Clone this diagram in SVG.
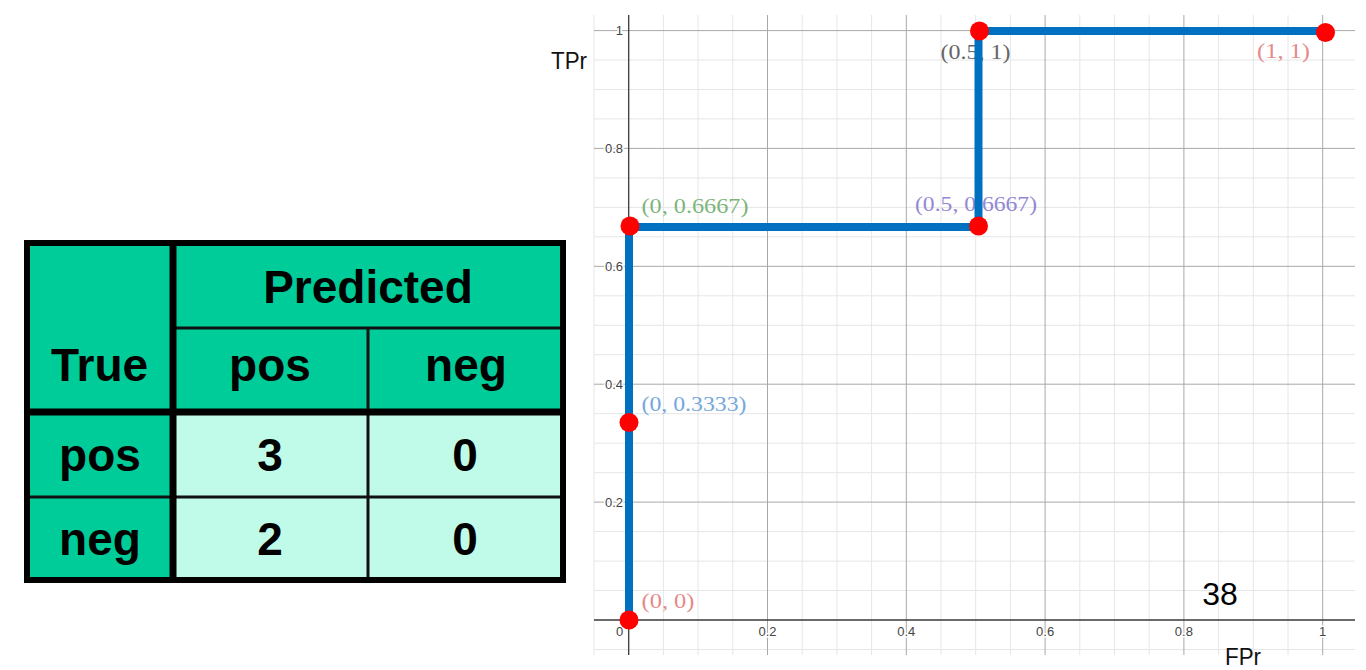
<svg xmlns="http://www.w3.org/2000/svg" width="1366" height="670" viewBox="0 0 1366 670">
<style>
.minor{stroke:#e6e6e6;stroke-width:1;fill:none}
.major{stroke:#a8a8a8;stroke-width:1;fill:none}
.axis{stroke:#3a3a3a;stroke-width:1.3;fill:none}
.tick{font-family:"Liberation Sans",Arial,sans-serif;font-size:13px;fill:#444;stroke:#fff;stroke-width:3;paint-order:stroke;stroke-linejoin:round}
.pl{font-family:"Liberation Serif","DejaVu Serif",serif;font-size:20px}
.roc{stroke:#0070c0;stroke-width:8;fill:none;stroke-linejoin:miter}
.pt{fill:#ff0000}
.axl{font-family:"Liberation Sans",Arial,sans-serif;font-size:24px;fill:#111}
.hd{fill:#00cc99}
.dc{fill:#c0fbe9}
.tt{font-family:"Liberation Sans",Arial,sans-serif;font-weight:bold;font-size:46px;fill:#000;text-anchor:middle}
.thick{stroke:#000;stroke-width:7;fill:none}
.thin{stroke:#111;stroke-width:3;fill:none}
</style>
<rect width="1366" height="670" fill="#fff"/>

<g id="table">
  <g id="cell-true"><rect class="hd" x="27" y="243" width="146" height="169"/><text class="tt" x="99.5" y="381">True</text></g>
  <g id="cell-predicted"><rect class="hd" x="173" y="243" width="390" height="85"/><text class="tt" x="368" y="303">Predicted</text></g>
  <g id="cell-pred-pos"><rect class="hd" x="173" y="328" width="195" height="84"/><text class="tt" x="270" y="381">pos</text></g>
  <g id="cell-pred-neg"><rect class="hd" x="368" y="328" width="195" height="84"/><text class="tt" x="466" y="381">neg</text></g>
  <g id="cell-row-pos"><rect class="hd" x="27" y="412" width="146" height="85"/><text class="tt" x="100" y="471">pos</text></g>
  <g id="cell-row-neg"><rect class="hd" x="27" y="497" width="146" height="83"/><text class="tt" x="100" y="555">neg</text></g>
  <g id="cell-tp"><rect class="dc" x="173" y="412" width="195" height="85"/><text class="tt" x="270" y="471">3</text></g>
  <g id="cell-fn"><rect class="dc" x="368" y="412" width="195" height="85"/><text class="tt" x="465" y="471">0</text></g>
  <g id="cell-fp"><rect class="dc" x="173" y="497" width="195" height="83"/><text class="tt" x="270" y="555">2</text></g>
  <g id="cell-tn"><rect class="dc" x="368" y="497" width="195" height="83"/><text class="tt" x="465" y="555">0</text></g>
  <g id="table-lines">
    <path class="thin" d="M173 328H563M368 328V580M27 497H563"/>
    <path class="thick" d="M173 243V580M27 412H563"/>
    <rect x="27" y="243" width="536" height="337" fill="none" stroke="#000" stroke-width="6"/>
  </g>
</g>

<g id="chart">
  <g id="grid">
    <path class="minor" d="M594 15V655M663.4 15V655M698.1 15V655M732.8 15V655M802.2 15V655M836.9 15V655M871.6 15V655M941 15V655M975.7 15V655M1010.4 15V655M1079.8 15V655M1114.5 15V655M1149.2 15V655M1218.6 15V655M1253.3 15V655M1288 15V655"/>
    <path class="minor" d="M594 649.5H1355M594 590.5H1355M594 561.1H1355M594 531.6H1355M594 472.7H1355M594 443.2H1355M594 413.7H1355M594 354.7H1355M594 325.3H1355M594 295.8H1355M594 236.8H1355M594 207.4H1355M594 177.9H1355M594 118.9H1355M594 89.5H1355M594 60H1355"/>
    <path class="major" d="M767.5 15V655M906.3 15V655M1045.1 15V655M1183.9 15V655M1322.7 15V655M594 502.1H1355M594 384.2H1355M594 266.3H1355M594 148.4H1355M594 30.6H1355"/>
    <path class="axis" d="M628.7 15V655M594 620H1355"/>
  </g>
  <g id="tick-labels">
    <text class="tick" x="623" y="35" text-anchor="end">1</text>
    <text class="tick" x="623" y="153" text-anchor="end">0.8</text>
    <text class="tick" x="623" y="271" text-anchor="end">0.6</text>
    <text class="tick" x="623" y="389" text-anchor="end">0.4</text>
    <text class="tick" x="623" y="506.5" text-anchor="end">0.2</text>
    <text class="tick" x="619.5" y="635.5" text-anchor="middle">0</text>
    <text class="tick" x="767.5" y="635.5" text-anchor="middle">0.2</text>
    <text class="tick" x="906.3" y="635.5" text-anchor="middle">0.4</text>
    <text class="tick" x="1045.1" y="635.5" text-anchor="middle">0.6</text>
    <text class="tick" x="1183.9" y="635.5" text-anchor="middle">0.8</text>
    <text class="tick" x="1322.7" y="635.5" text-anchor="middle">1</text>
  </g>
  <g id="axis-labels">
    <text class="axl" x="551" y="69" textLength="36" lengthAdjust="spacingAndGlyphs">TPr</text>
    <text class="axl" x="1225" y="665" textLength="36" lengthAdjust="spacingAndGlyphs">FPr</text>
    <text x="1220" y="605" text-anchor="middle" font-family="Liberation Sans, Arial, sans-serif" font-size="32" fill="#000">38</text>
  </g>
  <g id="point-labels">
    <text class="pl" x="641.5" y="608" fill="#e58a8a" textLength="53" lengthAdjust="spacingAndGlyphs">(0, 0)</text>
    <text class="pl" x="641.5" y="410.5" fill="#74a8dd" textLength="105" lengthAdjust="spacingAndGlyphs">(0, 0.3333)</text>
    <text class="pl" x="641.5" y="213" fill="#7db57d" textLength="107" lengthAdjust="spacingAndGlyphs">(0, 0.6667)</text>
    <text class="pl" x="915" y="210.5" fill="#9288d4" textLength="122" lengthAdjust="spacingAndGlyphs">(0.5, 0.6667)</text>
    <text class="pl" x="940.5" y="59" fill="#666" textLength="70" lengthAdjust="spacingAndGlyphs">(0.5, 1)</text>
    <text class="pl" x="1257" y="58" fill="#e58a8a" textLength="53" lengthAdjust="spacingAndGlyphs">(1, 1)</text>
  </g>
  <g id="connectors">
    <path class="roc" d="M629 620V227H978.5V31H1324.5"/>
  </g>
  <g id="points">
    <circle id="p-0-0" class="pt" cx="629" cy="620" r="9.5"/>
    <circle id="p-0-0333" class="pt" cx="629" cy="422.5" r="9.5"/>
    <circle id="p-0-0667" class="pt" cx="630" cy="226" r="9.5"/>
    <circle id="p-05-0667" class="pt" cx="978.5" cy="226" r="9.5"/>
    <circle id="p-05-1" class="pt" cx="979.5" cy="31" r="9.5"/>
    <circle id="p-1-1" class="pt" cx="1325.5" cy="32.5" r="9.5"/>
  </g>
</g>
</svg>
